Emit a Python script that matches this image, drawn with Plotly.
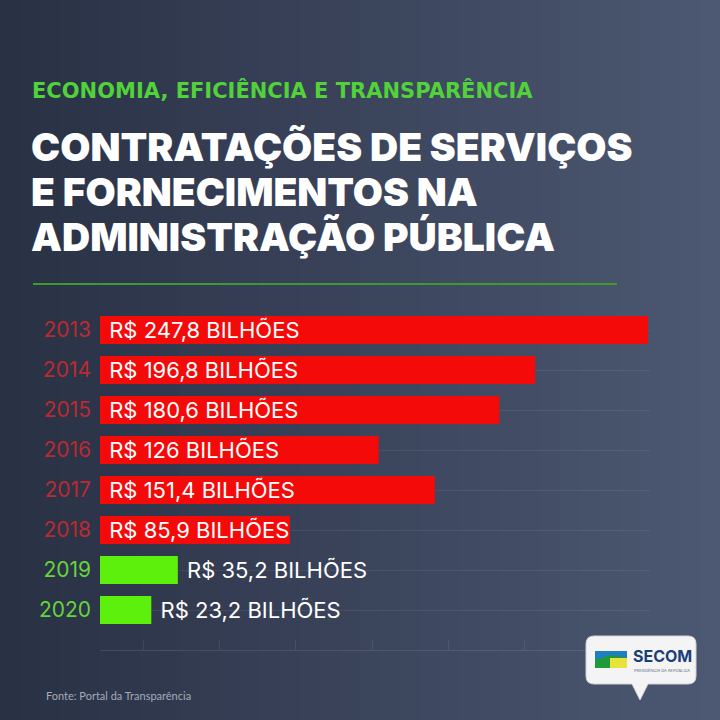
import plotly.graph_objects as go

# ---- data ----
years = ["2013", "2014", "2015", "2016", "2017", "2018", "2019", "2020"]
values = [247.8, 196.8, 180.6, 126.0, 151.4, 85.9, 35.2, 23.2]
value_labels = ["R$ 247,8 BILHÕES", "R$ 196,8 BILHÕES", "R$ 180,6 BILHÕES", "R$ 126 BILHÕES",
                "R$ 151,4 BILHÕES", "R$ 85,9 BILHÕES", "R$ 35,2 BILHÕES", "R$ 23,2 BILHÕES"]
is_reduction = [False, False, False, False, False, False, True, True]
title_lines = ["CONTRATAÇÕES DE SERVIÇOS", "E FORNECIMENTOS NA", "ADMINISTRAÇÃO PÚBLICA"]

RED = "#f50a0a"
GREEN = "#5df00c"
YEAR_RED = "#bb2a30"
YEAR_GREEN = "#66d43c"

W = H = 720
ML, MR, MT, MB = 100, 70, 310, 70
PW, PH = W - ML - MR, H - MT - MB


def px(x):
    return (x - ML) / PW


def py(y):
    return (H - MB - y) / PH


bar_colors = [GREEN if g else RED for g in is_reduction]
text_pos = ["outside" if g else "inside" for g in is_reduction]
year_text = [f'<span style="color:{YEAR_GREEN if g else YEAR_RED}">{y}</span>'
             for y, g in zip(years, is_reduction)]

fig = go.Figure()
fig.add_trace(go.Bar(
    x=values, y=years, orientation="h",
    marker=dict(color=bar_colors, line=dict(width=0)),
    text=[" " + t for t in value_labels],
    textposition=text_pos,
    insidetextanchor="start",
    constraintext="none",
    cliponaxis=False,
    textfont=dict(family="Inter", size=22, color="white"),
    hoverinfo="skip",
))

# ---- background gradient (decorative) ----
shapes = []
n = 36
c0 = (0x29, 0x31, 0x45)
c1 = (0x4d, 0x58, 0x72)
for i in range(n):
    t = i / (n - 1)
    c = tuple(int(a + (b - a) * t) for a, b in zip(c0, c1))
    x0 = i * W / n
    x1 = (i + 1) * W / n + 1
    shapes.append(dict(type="rect", xref="paper", yref="paper", layer="below",
                       x0=px(x0), x1=px(x1), y0=py(H), y1=py(0),
                       fillcolor="rgb(%d,%d,%d)" % c, line=dict(width=0)))
# green divider line
shapes.append(dict(type="line", xref="paper", yref="paper",
                   x0=px(33), x1=px(617), y0=py(284), y1=py(284),
                   line=dict(color="#3f9a2e", width=2)))
# SECOM bubble
bx0, bx1, by0, by1, r = 586, 696, 636, 684, 8
path = (f"M {px(bx0+r)},{py(by0)} L {px(bx1-r)},{py(by0)} Q {px(bx1)},{py(by0)} {px(bx1)},{py(by0+r)} "
        f"L {px(bx1)},{py(by1-r)} Q {px(bx1)},{py(by1)} {px(bx1-r)},{py(by1)} "
        f"L {px(648)},{py(by1)} L {px(640)},{py(700)} L {px(632)},{py(by1)} "
        f"L {px(bx0+r)},{py(by1)} Q {px(bx0)},{py(by1)} {px(bx0)},{py(by1-r)} "
        f"L {px(bx0)},{py(by0+r)} Q {px(bx0)},{py(by0)} {px(bx0+r)},{py(by0)} Z")
shapes.append(dict(type="path", xref="paper", yref="paper", path=path,
                   fillcolor="#f4f4f4", line=dict(color="#d0d3d8", width=1)))
# SECOM icon
shapes.append(dict(type="rect", xref="paper", yref="paper",
                   x0=px(595), x1=px(627), y0=py(668), y1=py(651),
                   fillcolor="#1f7fc0", line=dict(width=0)))
shapes.append(dict(type="path", xref="paper", yref="paper",
                   path=f"M {px(595)},{py(668)} L {px(595)},{py(660)} L {px(611)},{py(655)} L {px(627)},{py(658)} L {px(627)},{py(668)} Z",
                   fillcolor="#1e9a3a", line=dict(width=0)))
shapes.append(dict(type="rect", xref="paper", yref="paper",
                   x0=px(610), x1=px(627), y0=py(668), y1=py(658),
                   fillcolor="#e8e33a", line=dict(width=0)))

annotations = [
    dict(text="<b>ECONOMIA, EFICIÊNCIA E TRANSPARÊNCIA</b>", xref="paper", yref="paper",
         x=px(30), y=py(90), xanchor="left", yanchor="middle", showarrow=False,
         font=dict(family="DejaVu Sans", size=21, color="#52d23a")),
    dict(text="Fonte: Portal da Transparência", xref="paper", yref="paper",
         x=px(44), y=py(695), xanchor="left", yanchor="middle", showarrow=False,
         font=dict(family="Lato", size=11, color="#a3abbb")),
    dict(text="<b>SECOM</b>", xref="paper", yref="paper",
         x=px(631), y=py(656), xanchor="left", yanchor="middle", showarrow=False,
         font=dict(family="Inter", size=16, color="#1d3f78")),
    dict(text="PRESIDÊNCIA DA REPÚBLICA", xref="paper", yref="paper",
         x=px(632), y=py(670), xanchor="left", yanchor="middle", showarrow=False,
         font=dict(family="Inter", size=4, color="#5a6a88")),
]
for line, yc in zip(title_lines, [147, 192, 236]):
    annotations.append(dict(text=line, xref="paper", yref="paper", x=px(29), y=py(yc),
                            xanchor="left", yanchor="middle", showarrow=False,
                            font=dict(family="Inter", size=39, color="white", weight=900)))

fig.update_layout(
    width=W, height=H,
    margin=dict(l=ML, r=MR, t=MT, b=MB, pad=0),
    paper_bgcolor="#353e54", plot_bgcolor="rgba(0,0,0,0)",
    showlegend=False, bargap=0.3,
    shapes=shapes, annotations=annotations,
    xaxis=dict(range=[0, PW / 2.2115], showgrid=False, zeroline=False,
               showline=True, linecolor="rgba(255,255,255,0.10)", linewidth=1,
               ticks="inside", ticklen=10, tickcolor="rgba(255,255,255,0.08)",
               tick0=19.5, dtick=34.5, showticklabels=False, fixedrange=True),
    yaxis=dict(range=[8.0, -0.5], type="category", showgrid=True,
               gridcolor="rgba(255,255,255,0.07)", gridwidth=1,
               tickmode="array", tickvals=years, ticktext=year_text,
               tickfont=dict(family="Inter", size=21, color=YEAR_RED),
               ticks="", ticklabelstandoff=8, zeroline=False, fixedrange=True),
    font=dict(family="Inter"),
)

fig.write_html("out.html")
